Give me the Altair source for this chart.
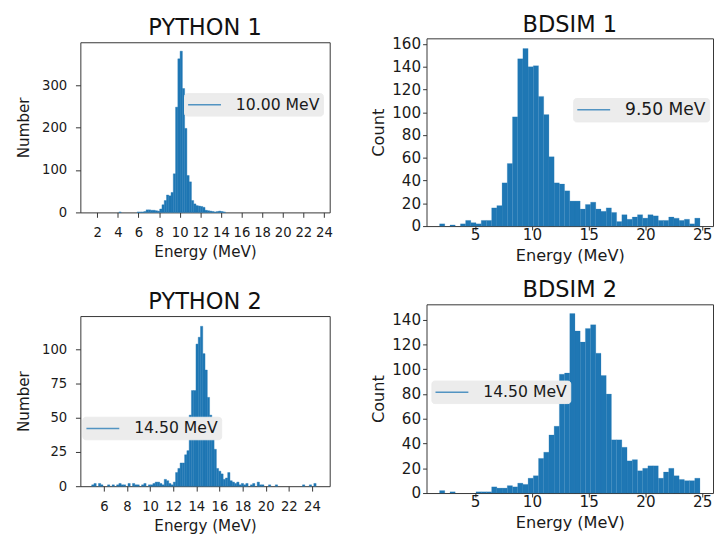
import altair as alt
import pandas as pd

FONT = "DejaVu Sans"
BLUE = "#1f77b4"
FRAME = "#333333"
TEXT = "#1a1a1a"

# ---------------- data ----------------
# PYTHON 1: 100 bins starting at 1.46 MeV, 0.22 MeV wide
p1_start, p1_width = 1.46, 0.22
p1_counts = [
    0, 0, 0, 0, 0, 0, 0, 0, 0, 0,
    0, 0, 1, 0, 0, 0, 0, 0, 0, 0,
    1, 1, 1, 2, 6, 6, 5, 5, 4, 3,
    8, 18, 28, 41, 39, 47, 91, 248, 362, 380,
    292, 198, 87, 72, 28, 20, 16, 15, 14, 12,
    5, 4, 3, 2, 1, 2, 3, 2, 1, 0,
    0, 0, 0, 0, 0, 0, 0, 0, 0, 0,
    0, 0, 0, 0, 0, 0, 0, 0, 0, 0,
    0, 0, 0, 0, 0, 0, 0, 0, 0, 0,
    0, 0, 0, 0, 0, 0, 0, 0, 0, 0,
]
p1_xticks = [2, 4, 6, 8, 10, 12, 14, 16, 18, 20, 22, 24]
p1_yticks = [0, 100, 200, 300]
p1_label = "10.00 MeV"

# PYTHON 2: 100 bins starting at 4.95 MeV, 0.196 MeV wide
p2_start, p2_width = 4.95, 0.196
p2_counts = [
    1, 2, 0, 2, 1, 0, 0, 1, 0, 1,
    0, 1, 2, 1, 1, 0, 2, 0, 2, 1,
    1, 0, 1, 2, 0, 1, 1, 2, 3, 3,
    2, 1, 5, 4, 2, 1, 3, 10, 13, 17,
    17, 23, 26, 52, 70, 70, 104, 109, 117, 97,
    85, 65, 52, 36, 27, 13, 11, 9, 5, 6,
    10, 4, 3, 2, 3, 1, 2, 1, 2, 0,
    1, 2, 0, 3, 1, 1, 0, 0, 1, 0,
    0, 1, 0, 0, 0, 0, 0, 0, 0, 0,
    0, 0, 0, 1, 0, 0, 1, 0, 2, 0,
]
p2_xticks = [6, 8, 10, 12, 14, 16, 18, 20, 22, 24]
p2_yticks = [0, 25, 50, 75, 100]
p2_label = "14.50 MeV"

# BDSIM 1 / 2: 50 bins starting at 1.87 MeV, 0.4586 MeV wide
b_start, b_width = 1.87, 0.4586
b1_counts = [
    2, 0, 1, 0, 2, 5, 3, 2, 5, 5,
    16, 18, 38, 55, 96, 147, 156, 140, 141, 114,
    98, 61, 38, 37, 31, 22, 22, 15, 19, 21,
    15, 13, 16, 12, 4, 10, 6, 8, 10, 7,
    10, 9, 5, 5, 8, 7, 5, 6, 2, 7,
]
b1_yticks = [0, 20, 40, 60, 80, 100, 120, 140, 160]
b1_label = "9.50 MeV"

b2_counts = [
    2, 0, 1, 0, 0, 0, 0, 1, 1, 1,
    5, 4, 4, 6, 5, 8, 7, 12, 14, 28,
    33, 47, 54, 96, 97, 145, 131, 122, 133, 136,
    113, 95, 80, 43, 43, 37, 26, 27, 18, 20,
    22, 22, 12, 17, 20, 14, 11, 10, 10, 12,
]
b2_yticks = [0, 20, 40, 60, 80, 100, 120, 140]
b2_label = "14.50 MeV"
b_xticks = [5, 10, 15, 20, 25]


def hist_df(start, width, counts):
    lo = [start + i * width for i in range(len(counts))]
    df = pd.DataFrame({"lo": lo, "hi": [v + width for v in lo], "n": counts})
    return df[df["n"] > 0]


def panel(title, df, label, xdom, ydom, xticks, yticks, ytitle, w, h, st):
    xaxis = alt.Axis(values=xticks, title="Energy (MeV)", grid=False, domain=False,
                     tickColor=FRAME, tickSize=st["tick"], labelPadding=st["xpad"],
                     labelFont=FONT, labelFontSize=st["tfs"], labelColor=TEXT,
                     labelOverlap=False, labelFlush=False, labelBound=False,
                     titleFont=FONT, titleFontSize=st["afs"], titleFontWeight="normal",
                     titleColor=TEXT, titlePadding=st["xtp"], format="d")
    yaxis = alt.Axis(values=yticks, title=ytitle, grid=False, domain=False,
                     tickColor=FRAME, tickSize=st["tick"], labelPadding=st["ypad"],
                     labelFont=FONT, labelFontSize=st["tfs"], labelColor=TEXT,
                     labelOverlap=False, labelFlush=False,
                     titleFont=FONT, titleFontSize=st["afs"], titleFontWeight="normal",
                     titleColor=TEXT, titlePadding=st["ytp"], format="d")
    bars = alt.Chart(df).mark_rect(color=BLUE, stroke=BLUE, strokeWidth=st["sw"]).encode(
        x=alt.X("lo:Q", scale=alt.Scale(domain=xdom, nice=False, zero=False), axis=xaxis),
        x2="hi:Q",
        y=alt.Y("n:Q", scale=alt.Scale(domain=ydom, nice=False), axis=yaxis),
        y2=alt.datum(0),
    )
    leg = alt.Chart(pd.DataFrame({"label": [label]})).mark_line(strokeWidth=1.5).encode(
        x=alt.value(0), y=alt.value(0),
        stroke=alt.Stroke("label:N", scale=alt.Scale(range=[BLUE]),
                          legend=alt.Legend(title=None, orient="none",
                                            legendX=st["lx"], legendY=st["ly"],
                                            fillColor="#ececec", strokeColor="#ececec",
                                            cornerRadius=3, padding=3,
                                            symbolType="M-2.1,0H2.1", symbolSize=256,
                                            symbolOffset=9,
                                            symbolStrokeWidth=1.5, symbolOpacity=0.75,
                                            labelFont=FONT, labelFontSize=st["lfs"],
                                            labelColor=TEXT, labelOffset=23)),
    )
    return alt.layer(bars, leg).properties(
        width=w, height=h,
        title=alt.TitleParams(title, font=FONT, fontSize=23, fontWeight="normal",
                              color="#111111", offset=-1),
    )


PY = dict(tick=5, xpad=9, ypad=9, ytp=10, xtp=6, tfs=13.5, afs=15.5, sw=0.4)
BD = dict(tick=4, xpad=-2, ypad=2, ytp=5, xtp=5, tfs=15.5, afs=16.5, sw=0.2)

p1 = panel("PYTHON 1", hist_df(p1_start, p1_width, p1_counts), p1_label,
           [0.36, 24.56], [0, 401], p1_xticks, p1_yticks, "Number", 255, 174,
           dict(PY, lx=106, ly=52, lfs=16))
p2 = panel("PYTHON 2", hist_df(p2_start, p2_width, p2_counts), p2_label,
           [3.97, 25.53], [0, 124.5], p2_xticks, p2_yticks, "Number", 255, 174,
           dict(PY, lx=2, ly=103, lfs=16))
b1 = panel("BDSIM 1", hist_df(b_start, b_width, b1_counts), b1_label,
           [0.72, 25.95], [0, 165], b_xticks, b1_yticks, "Count", 293, 192,
           dict(BD, lx=150, ly=61, lfs=17.5))
b2 = panel("BDSIM 2", hist_df(b_start, b_width, b2_counts), b2_label,
           [0.72, 25.95], [0, 152.5], b_xticks, b2_yticks, "Count", 293, 193,
           dict(BD, lx=5, ly=78, lfs=16))


def spacer():
    return alt.Chart(pd.DataFrame({"v": [0]})).mark_rect(opacity=0).encode(
        x=alt.value(0), x2=alt.value(1), y=alt.value(0), y2=alt.value(1)
    ).properties(width=1, height=1, view=alt.ViewBackground(stroke="transparent"))


def ind(c):
    return c.resolve_scale(stroke="independent").resolve_legend(stroke="independent")


left = ind(alt.vconcat(spacer(), ind(alt.vconcat(p1, p2, spacing=30)), spacing=4))
right = ind(alt.vconcat(spacer(), ind(alt.vconcat(b1, b2, spacing=14)), spacing=0))

chart = ind(alt.hconcat(left, right, spacing=37)).properties(
    padding={"left": 8, "top": -4, "right": 0, "bottom": 0},
    background="white",
).configure_view(stroke=FRAME, strokeWidth=1)

chart.save("out.html", embed_options={"renderer": "svg", "actions": False})
